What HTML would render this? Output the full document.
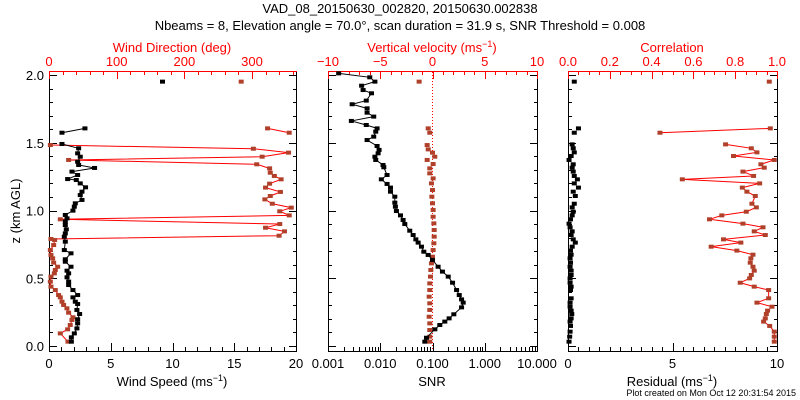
<!DOCTYPE html>
<html><head><meta charset="utf-8"><style>
html,body{margin:0;padding:0;background:#fff;}
svg{display:block;font-family:"Liberation Sans",sans-serif;}
</style></head><body>
<svg id="chart" width="800" height="400" viewBox="0 0 800 400">
<text x="400" y="13" text-anchor="middle" font-size="13">VAD_08_20150630_002820, 20150630.002838</text>
<text x="400" y="30" text-anchor="middle" font-size="13">Nbeams = 8, Elevation angle = 70.0°, scan duration = 31.9 s, SNR Threshold = 0.008</text>
<text x="20" y="211" text-anchor="middle" font-size="13" transform="rotate(-90 20 211)">z (km AGL)</text>
<text x="172" y="52" text-anchor="middle" font-size="13" fill="#ff0000">Wind Direction (deg)</text>
<text x="432" y="52" text-anchor="middle" font-size="13" fill="#ff0000">Vertical velocity (ms<tspan baseline-shift="super" font-size="9">−1</tspan>)</text>
<text x="672" y="52" text-anchor="middle" font-size="13" fill="#ff0000">Correlation</text>
<text x="172" y="386" text-anchor="middle" font-size="13">Wind Speed (ms<tspan baseline-shift="super" font-size="9">−1</tspan>)</text>
<text x="432" y="386" text-anchor="middle" font-size="13">SNR</text>
<text x="672" y="386" text-anchor="middle" font-size="13">Residual (ms<tspan baseline-shift="super" font-size="9">−1</tspan>)</text>
<text x="796" y="396" text-anchor="end" font-size="9">Plot created on Mon Oct 12 20:31:54 2015</text>
<g id="g"></g>
</svg>
<script>
// ---- data ----
const speedZ=[.032,.064,.093,.130,.167,.197,.236,.266,.310,.327,.359,.376,.413,.450,.475,.507,.536,.556,.585,.622,.640,.684,.708,.770,.807,.831,.861,.893,.918,.942,.967,.999,1.028,1.053,1.078,1.114,1.139,1.171,1.200,1.225,1.232,1.262,1.287,1.314,1.336,1.360,1.397,1.422,1.459,1.491,null,1.574,1.606,null,1.951];
const speedV=[1.81,1.81,2.05,2.26,2.32,2.32,2.48,2.26,2.32,2.13,1.94,2.32,1.94,1.59,1.59,1.46,1.59,1.46,1.78,1.32,1.32,1.78,1.24,1.32,1.24,1.32,1.40,1.32,1.32,1.46,1.32,1.94,2.05,2.13,2.67,2.53,2.67,2.96,2.53,2.21,1.51,2.32,1.86,3.69,2.40,2.32,2.53,2.32,2.40,1.05,null,1.05,2.91,null,9.19];
const dirZ=[.032,.093,.123,.155,.192,.212,.246,.278,.303,.327,.359,.376,.413,.438,.475,.512,.536,.561,.585,.615,.647,.672,.708,.745,.782,.790,.814,.846,.873,.900,.935,.964,.994,1.021,1.050,1.082,1.107,1.137,1.169,1.198,1.230,1.255,1.279,1.311,1.341,1.373,1.397,1.427,1.456,1.483,null,1.574,1.606,null,1.951];
const dirV=[28,16.7,27.5,31.4,33.9,35.4,29,26.5,21.6,19.2,16.7,14.2,9.3,2.9,2,2.9,7.9,9.3,12.8,6.9,5.4,2.9,2,6.9,8.3,2.9,340,348,320,341,16.7,355,341,358,330,319,327,342,320,326,343,333,327,326,307,29,315,354,302,2,null,355,323,null,284];
const snrZ=[.032,.061,.123,.155,.180,.204,.234,.285,.320,.344,.376,.413,.467,.512,.549,.585,.635,.672,.696,.733,.763,.787,.819,.851,.900,.930,.964,.996,1.028,1.058,1.102,1.139,1.169,1.196,1.230,1.262,1.319,1.336,1.373,1.397,1.422,1.447,1.476,1.520,1.545,1.582,1.606,1.631,1.661,1.693,1.722,1.754,1.784,1.811,1.865,1.889,1.921,1.951,1.983,2.012];
const snrV=[.0713,.0767,.111,.138,.172,.208,.256,.360,.387,.36,.325,.289,.242,.200,.155,.128,.100,.0826,.0682,.0615,.0531,.048,.0426,.0367,.0295,.0274,.0244,.0204,.0195,.0190,.0190,.0157,.0157,.0135,.0105,.0135,.0117,.0113,.0082,.0079,.0091,.0095,.0087,.0056,.0075,.0082,.0087,.0054,.0028,.0075,.0056,.0056,.0029,.0054,.0068,.0047,.0044,.0079,.0063,.0016];
const wZ=[.032,.069,.118,.167,.216,.266,.315,.364,.413,.462,.512,.561,.610,.659,.708,.758,.807,.856,.905,.954,1.004,1.053,1.102,1.151,1.200,1.237,1.274,1.311,1.343,1.373,1.397,1.427,1.451,1.483,1.574,1.606,1.951];
const wV=[-.26,-.26,-.26,-.26,-.32,-.26,-.26,-.32,-.26,-.26,-.19,-.16,-.10,0,.06,.13,.16,.16,.13,.06,.06,0,-.06,0,-.10,.06,-.26,-.26,.06,-.51,.22,0,-.41,-.51,-.26,-.41,-1.28];
const corrZ=[.032,.069,.106,.148,.180,.204,.236,.261,.290,.320,.352,.413,.438,.467,.499,.524,.556,.585,.615,.647,.674,.704,.733,.763,.787,.819,.846,.876,.903,.935,.964,.991,1.023,1.050,1.107,1.139,1.169,1.200,1.230,1.255,1.287,1.316,1.341,1.373,1.402,1.429,1.459,1.488,null,1.574,1.606,null,1.951];
const corrV=[.987,.987,.987,.965,.936,.944,.949,.955,.976,.904,.96,.96,.891,.824,.869,.877,.891,.885,.872,.875,.885,.808,.685,.827,.744,.944,.891,.933,.837,.677,.736,.853,.901,.880,.896,.856,.834,.917,.547,.888,.837,.939,.923,.987,.792,.904,.877,.754,null,.44,.968,null,.963];
const resV=[.05,.08,.1,.12,.1,.15,.18,.15,.1,.1,.15,.12,.15,.1,.1,.15,.15,.1,.12,.1,.15,.12,.2,.35,.25,.15,.2,.1,.05,.12,.2,.25,.2,.3,.35,.25,.5,.3,.45,.3,.25,.2,.25,.05,.15,.3,.25,.2,null,.3,.5,null,.3];
const zTicks=[0,0.5,1,1.5,2];
const speedTicks=[0,5,10,15,20];
const dirTicks=[0,100,200,300];
const snrTicks=[0.001,0.01,0.1,1,10];
const snrLabels=["0.001","0.010","0.100","1.000","10.000"];
const wTicks=[-10,-5,0,5,10];
const corrTicks=[0,0.2,0.4,0.6,0.8,1];
const resTicks=[0,5,10];

// ---- scales ----
const Y=z=>346-z*135.5;
const P1={x0:49,x1:296}, P2={x0:328,x1:537}, P3={x0:568,x1:777};
const xSpeed=v=>49+v/20*247;
const xDir=v=>49+v*0.6767;
const xSnr=v=>328+(Math.log10(v)+3)*52.25;
const xW=v=>328+(v+10)/20*209;
const xCorr=v=>568+v*209;
const xRes=v=>568+v/10*209;
const RED="#ff0000", MK="#b0402a";
const g=document.getElementById('g');
const NS="http://www.w3.org/2000/svg";
function el(t,a){const e=document.createElementNS(NS,t);for(const k in a)e.setAttribute(k,a[k]);g.appendChild(e);return e;}
function line(x1,y1,x2,y2,c){return el('line',{x1,y1,x2,y2,stroke:c,'stroke-width':1,'shape-rendering':'crispEdges'});}
function txt(x,y,s,c,anchor){const t=el('text',{x,y,'font-size':13,fill:c,'text-anchor':anchor||'middle'});t.textContent=s;return t;}

// frames
[P1,P2,P3].forEach((p,i)=>{
  const r=el('rect',{x:p.x0+.5,y:71.5,width:p.x1-p.x0,height:280,fill:'none',stroke:'#000','shape-rendering':'crispEdges'});
  
  
  line(p.x0,71.5,p.x1+1,71.5,RED);
  for(let z=0;z<=2.001;z+=0.1){const major=Math.abs(z*2-Math.round(z*2))<1e-6;const L=major?8:4;const y=Math.round(Y(z))+.5;line(p.x0,y,p.x0+L,y,'#000');line(p.x1+1-L,y,p.x1+1,y,'#000');}
});
zTicks.forEach(z=>{const t=txt(44,Y(z)+5,z.toFixed(1),'#000','end');});
// panel 1 ticks
for(let s=0;s<=20;s++){const x=Math.round(xSpeed(s))+.5;line(x,351,x,351-(s%5?4:8),'#000');}
speedTicks.forEach(s=>{const t=txt(xSpeed(s),368,String(s),'#000');});
for(let d=0;d<=360;d+=20){const x=Math.round(xDir(d))+.5;line(x,71,x,71+(d%100?4:8),RED);}
dirTicks.forEach(d=>{const t=txt(xDir(d),66,String(d),RED);});
// panel 2 ticks
for(let e=-3;e<1;e++)for(let m=1;m<10;m++){const x=Math.round(xSnr(m*Math.pow(10,e)))+.5;line(x,351,x,351-(m==1?8:4),'#000');}
snrTicks.forEach((s,i)=>{const t=txt(xSnr(s),368,snrLabels[i],'#000');});
for(let w=-10;w<=10;w++){const x=Math.round(xW(w))+.5;line(x,71,x,71+(w%5?4:8),RED);}
wTicks.forEach(w=>{const t=txt(xW(w),66,w<0?'−'+Math.abs(w):String(w),RED);});
const zl=el('line',{x1:xW(0),y1:72,x2:xW(0),y2:351,stroke:RED,'stroke-dasharray':'1,2'});


// panel 3 ticks
for(let r=0;r<=10;r+=0.5){const x=Math.round(xRes(r))+.5;line(x,351,x,351-(r%5?4:8),'#000');}
resTicks.forEach(r=>{const t=txt(xRes(r),368,String(r),'#000');});
for(let i=0;i<=20;i++){const x=Math.round(xCorr(i/20))+.5;line(x,71,x,71+(i%4?4:8),RED);}
corrTicks.forEach(c=>{const t=txt(xCorr(c),66,c.toFixed(1),RED);});

// series
function series(zs,vs,xf,lineC,markC,name){
  let seg=[];const segs=[];
  zs.forEach((z,i)=>{if(z===null||vs[i]===null){if(seg.length)segs.push(seg);seg=[];}else seg.push([xf(vs[i]),Y(z)]);});
  if(seg.length)segs.push(seg);
  if(lineC)segs.forEach(s=>{if(s.length>1){const p=el('polyline',{points:s.map(q=>q.join(',')).join(' '),fill:'none',stroke:lineC,'stroke-width':1});
    
    }});
  segs.flat().forEach(q=>{const m=el('rect',{x:q[0]-2.5,y:q[1]-2,width:5,height:4,fill:markC});
    
    });
}
series(dirZ,dirV,xDir,RED,MK,'wind-direction');
series(speedZ,speedV,xSpeed,'#000','#000','wind-speed');
series(wZ,wV,xW,null,MK,'vertical-velocity');
series(snrZ,snrV,xSnr,'#000','#000','snr');
series(corrZ,resV,xRes,null,'#000','residual');
series(corrZ,corrV,xCorr,RED,MK,'correlation');
</script>
</body></html>
